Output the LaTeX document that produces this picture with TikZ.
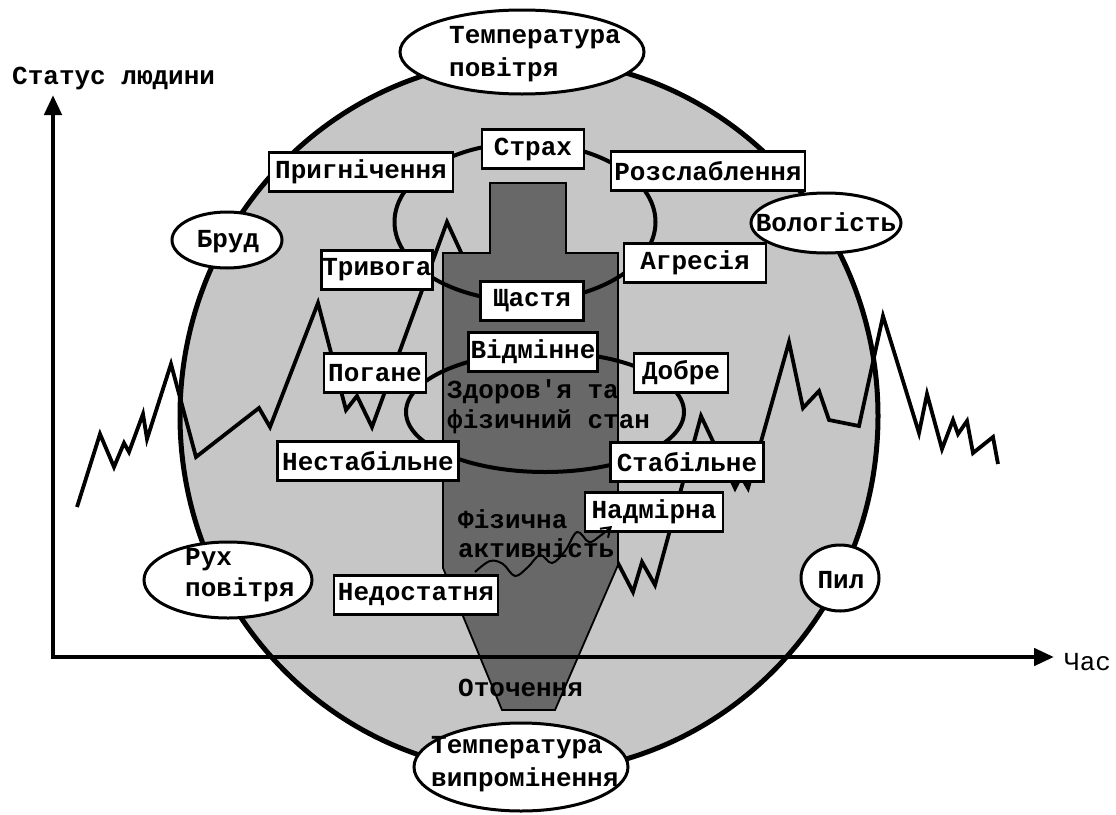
\documentclass[tikz,border=0pt]{standalone}
\usepackage{fontspec}
\setmonofont{Liberation Mono}
\usetikzlibrary{shapes.geometric,arrows.meta}
\definecolor{lightbg}{RGB}{198,198,198}
\definecolor{darkbg}{RGB}{104,104,104}
\tikzset{
  lbl/.style={draw=black, line width=2.8pt, fill=white, font=\ttfamily\bfseries\fontsize{26}{30}\selectfont, inner sep=0pt, minimum height=39pt},
  oval/.style={ellipse, draw=black, line width=3pt, fill=white, inner sep=0pt},
  ovaltext/.style={font=\ttfamily\bfseries\fontsize{26}{33}\selectfont, align=left, anchor=west, inner sep=0pt},
  centertext/.style={font=\ttfamily\bfseries\fontsize{26}{33}\selectfont, inner sep=0pt},
  ring/.style={ellipse, draw=black, line width=4pt, inner sep=0pt},
  zig/.style={line width=3.8pt, line join=miter},
  darkshape/.style={fill=darkbg, draw=black, line width=1.8pt},
  axis/.style={line width=4.5pt, {Triangle[length=20pt,width=17pt]}-{Triangle[length=20pt,width=17pt]}},
  darktext/.style={font=\ttfamily\bfseries\fontsize{26}{30}\selectfont, text=black, align=left, anchor=west, inner sep=0pt},
  darkbold/.style={font=\ttfamily\bfseries\fontsize{26}{29}\selectfont, align=left, anchor=west, inner sep=0pt},
}
\begin{document}
\begin{tikzpicture}[x=1pt,y=-1pt]
\useasboundingbox (0,0) rectangle (1116,814);

% environment ellipse
\node[ellipse, draw=black, line width=5pt, fill=lightbg, inner sep=0pt, minimum width=698pt, minimum height=714pt] (env) at (529,416) {};

% status zigzag
\draw[zig] plot coordinates {(77,507) (100,434) (114,467) (124,443) (129,452) (143,414) (147,439) (171,364) (196,457) (259,408) (270,427) (318,303) (346,410) (357,396) (372,427) (447,222) (520,380) (570,330) (606,540) (633,592) (642,562) (655,585) (701,416) (735,488) (741,476) (748,488) (789,342) (803,408) (819,391) (829,420) (859,426) (883,316) (919,433) (927,394) (942,449) (953,420) (958,434) (967,421) (973,453) (993,437) (998,464)};

% human body shape
\draw[darkshape] (490,183) -- (566,183) -- (566,253) -- (618,253) -- (618,565) -- (555,710) -- (502,710) -- (443,568) -- (443,253) -- (490,253) -- cycle;

% axes
\coordinate (ytop) at (53,95);
\coordinate (O) at (53,657);
\coordinate (xend) at (1054,657);
\draw[axis] (ytop) -- (O) -- (xend);
\node[centertext, anchor=west] (ylabel) at (12,78) {Статус людини};
\node[centertext, font=\ttfamily\fontsize{26}{30}\selectfont, anchor=west] (xlabel) at (1064,662) {Час};

% rings
\node[ring, minimum width=261pt, minimum height=158pt] (emoring) at (525,222) {};
\node[ring, minimum width=278pt, minimum height=120pt] (healthring) at (545,412) {};

% texts in the body
\node[darktext] (health) at (447,407) {Здоров'я та\\фізичний стан};
\node[darkbold] (activity) at (458,534) {Фізична\\активність};
\node[darkbold] (surround) at (458,688) {Оточення};

% emotion boxes
\node[lbl, minimum width=184pt] (prygn) at (361,172) {Пригнічення};
\node[lbl, minimum width=102pt] (strakh) at (533,149) {Страх};
\node[lbl, minimum width=194pt] (rozsl) at (708,171) {Розслаблення};
\node[lbl, minimum width=111pt] (tryv) at (377,270) {Тривога};
\node[lbl, minimum width=142pt] (agres) at (695,263) {Агресія};
\node[lbl, minimum width=103pt] (shchast) at (532,301) {Щастя};
% health boxes
\node[lbl, minimum width=129pt] (vidm) at (533,352) {Відмінне};
\node[lbl, minimum width=102pt] (pogane) at (375,373) {Погане};
\node[lbl, minimum width=94pt] (dobre) at (681,373) {Добре};
\node[lbl, minimum width=181pt] (nestab) at (368,461) {Нестабільне};
\node[lbl, minimum width=153pt] (stab) at (687,462) {Стабільне};
% activity boxes
\node[lbl, minimum width=138pt] (nadm) at (654,512) {Надмірна};
\node[lbl, minimum width=164pt] (nedost) at (416,595) {Недостатня};

% environment factors
\node[oval, minimum width=244pt, minimum height=84pt] (tair) at (522,52) {};
\node[ovaltext] (tairtxt) at (449,54) {Температура\\повітря};
\node[oval, minimum width=214pt, minimum height=88pt] (trad) at (521,767) {};
\node[ovaltext] (tradtxt) at (431,764) {Температура\\випромінення};
\node[oval, minimum width=110pt, minimum height=56pt] (brud) at (227,240) {};
\node[centertext] (brudtxt) at (228,242) {Бруд};
\node[oval, minimum width=150pt, minimum height=60pt] (volog) at (826,223) {};
\node[centertext] (vologtxt) at (826,222) {Вологість};
\node[oval, minimum width=168pt, minimum height=76pt] (rukh) at (228,580) {};
\node[ovaltext, font=\ttfamily\bfseries\fontsize{26}{31}\selectfont] (rukhtxt) at (185,575) {Рух\\повітря};
\node[oval, minimum width=78pt, minimum height=66pt] (pyl) at (840,578) {};
\node[centertext] (pyltxt) at (841,580) {Пил};

% activity arrow
\coordinate (wstart) at (475,572);
\coordinate (wend) at (612,526);
\draw[line width=2pt, -{Straight Barb[length=9pt,width=12pt]}] plot[smooth, tension=0.6] coordinates {(wstart) (490,561) (503,564) (515,576) (528,567) (540,555) (552,563) (565,551) (577,532) (589,542) (600,536) (wend)};
\end{tikzpicture}
\end{document}
